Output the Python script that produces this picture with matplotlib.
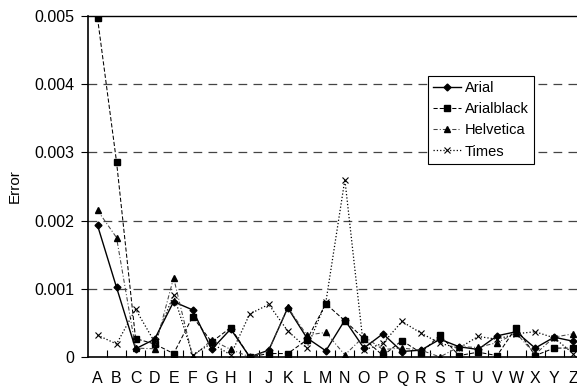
import numpy as np
import matplotlib
matplotlib.use("Agg")
from matplotlib import pyplot
from matplotlib.ticker import FixedLocator

# Data

letters = list("ABCDEFGHIJKLMNOPQRSTUVWXYZ")

arial = [0.00193, 0.00102, 0.00012, 0.00026, 0.00081, 0.00069, 0.00011, 0.00041, 0.0, 0.00010,
         0.00072, 0.00028, 0.00009, 0.00054, 0.00013, 0.00034, 0.00008, 0.00010, 0.00026, 0.00015,
         0.00011, 0.00031, 0.00037, 0.00013, 0.00029, 0.00023]
arialBlack = [0.00497, 0.00286, 0.00027, 0.00019, 0.00005, 0.00059, 0.00022, 0.00043, 0.0, 0.00005,
              0.00005, 0.00025, 0.00078, 0.00053, 0.00027, 0.00002, 0.00024, 0.00006, 0.00032, 0.00002,
              0.00007, 0.00002, 0.00043, 0.00002, 0.00013, 0.00013]
helvetica = [0.00215, 0.00175, 0.00013, 0.00012, 0.00116, 0.0, 0.00025, 0.00011, 0.0, 0.00009,
             0.00073, 0.00032, 0.00036, 0.00003, 0.00030, 0.00011, 0.00013, 0.00010, 0.0, 0.00015,
             0.00014, 0.00021, 0.00035, 0.00004, 0.00029, 0.00034]
times = [0.00032, 0.00019, 0.00070, 0.00022, 0.00091, 0.00003, 0.00020, 0.00003, 0.00063, 0.00077,
         0.00038, 0.00013, 0.00080, 0.00260, 0.00010, 0.00020, 0.00052, 0.00035, 0.00020, 0.00013,
         0.00030, 0.00026, 0.00034, 0.00037, 0.00028, 0.00005]

yTicks = [0, 0.001, 0.002, 0.003, 0.004, 0.005]
yTickLabels = ["0", "0.001", "0.002", "0.003", "0.004", "0.005"]

# Plot

pyplot.rcParams["font.family"] = ["Liberation Sans", "DejaVu Sans"]

fig = pyplot.figure(figsize = (5.77, 3.88), dpi = 100)
ax = fig.add_axes([0.1525, 0.080, 0.8475, 0.879])

x = np.arange(len(letters))

ax.plot(x, arial, "-", color = "black", linewidth = 1.0, marker = "D", markersize = 3.5, label = "Arial")
ax.plot(x, arialBlack, "--", color = "black", linewidth = 0.75, dashes = (4, 2), marker = "s", markersize = 4, label = "Arialblack")
ax.plot(x, helvetica, "-.", color = "#444444", linewidth = 0.75, dashes = (4, 2, 1, 2), marker = "^", markersize = 4.5, markerfacecolor = "black", markeredgecolor = "black", label = "Helvetica")
ax.plot(x, times, ":", color = "black", linewidth = 0.9, marker = "x", markersize = 4, markeredgewidth = 0.8, label = "Times")

# Axes

ax.set_xlim(-0.5, 25.2)
ax.set_ylim(0, 0.005)

ax.set_xticks(x)
ax.set_xticklabels(letters, fontsize = 11.5)
ax.tick_params(axis = "x", which = "major", length = 0, pad = 10)
ax.xaxis.set_minor_locator(FixedLocator(x[:-1] + 0.5))
ax.tick_params(axis = "x", which = "minor", direction = "in", length = 5, width = 0.8)

ax.set_yticks(yTicks)
ax.set_yticklabels(yTickLabels, fontsize = 11.5)
ax.tick_params(axis = "y", direction = "out", length = 5, width = 0.8, pad = 5)

ax.set_ylabel("Error", fontsize = 11, labelpad = 9)

for yValue in yTicks[1:-1]:
    ax.axhline(yValue, color = "#444444", linestyle = (0, (7, 5)), linewidth = 0.9, zorder = 0)

ax.spines["right"].set_visible(False)
ax.spines["top"].set_linewidth(1.0)
ax.spines["left"].set_linewidth(1.2)
ax.spines["bottom"].set_linewidth(1.2)

legend = ax.legend(loc = "upper left", bbox_to_anchor = (0.695, 0.825), fontsize = 10.5,
                   frameon = True, fancybox = False, edgecolor = "black", framealpha = 1,
                   handlelength = 1.9, handletextpad = 0.3, borderpad = 0.35, labelspacing = 0.5,
                   borderaxespad = 0)
legend.get_frame().set_linewidth(0.8)

fig.savefig("out.png", dpi = 100)
pyplot.close()
